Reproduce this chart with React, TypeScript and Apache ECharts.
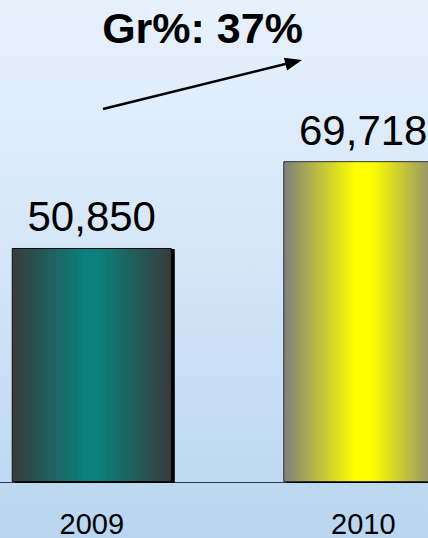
import React, { useEffect, useRef } from "react";
import * as echarts from "echarts";

const categories = ["2009", "2010"];
const values = [50850, 69718];
const growthLabel = "Gr%: 37%";

export default function App() {
  const ref = useRef<HTMLDivElement>(null);
  useEffect(() => {
    if (!ref.current) return;
    const chart = echarts.init(ref.current, null, { renderer: "svg" });
    const grad = (edge: string, mid: string) =>
      new echarts.graphic.LinearGradient(0, 0, 1, 0, [
        { offset: 0, color: edge },
        { offset: 0.45, color: mid },
        { offset: 0.55, color: mid },
        { offset: 1, color: edge },
      ]);
    const barStyles = [
      { color: grad("#383b3b", "#0b7f7b"), borderColor: "#111", borderWidth: 1, shadowColor: "#000", shadowOffsetX: 3, shadowOffsetY: 1, shadowBlur: 0 },
      { color: grad("#7f7f7f", "#ffff00"), borderColor: "#333", borderWidth: 1, shadowColor: "#000", shadowOffsetX: 3, shadowOffsetY: 1, shadowBlur: 0 },
    ];
    // arrow geometry
    const x1 = 103, y1 = 109, tx = 302, ty = 60;
    const dx = tx - x1, dy = ty - y1;
    const len = Math.hypot(dx, dy);
    const ux = dx / len, uy = dy / len;
    const hl = 17, hw = 6.5;
    const bx = tx - hl * ux, by = ty - hl * uy;
    const nx = -uy, ny = ux;
    chart.setOption({
      animation: false,
      grid: { left: -44, right: -71, top: 21.8, bottom: 56, outerBoundsMode: "none" },
      xAxis: {
        type: "category",
        data: categories,
        axisTick: { show: false },
        axisLine: { lineStyle: { color: "#2a3a50", width: 1 } },
        axisLabel: { fontSize: 29, color: "#000", margin: 27, fontFamily: "Liberation Sans, Arial, sans-serif" },
      },
      yAxis: { type: "value", min: 0, max: 100000, show: false, splitLine: { show: false } },
      series: [
        {
          type: "bar",
          barWidth: 160,
          data: values.map((v, i) => ({ value: v, itemStyle: barStyles[i] })),
          label: {
            show: true,
            position: "top",
            distance: 10,
            fontSize: 42,
            color: "#000",
            fontFamily: "Liberation Sans, Arial, sans-serif",
            formatter: (p: any) => Number(p.value).toLocaleString("en-US"),
          },
        },
      ],
      graphic: [
        {
          type: "text",
          x: 202.5,
          y: 28,
          style: {
            text: growthLabel,
            fontSize: 43,
            fontWeight: "bold",
            fontFamily: "Liberation Sans, Arial, sans-serif",
            fill: "#000",
            textAlign: "center",
            textVerticalAlign: "middle",
          },
        },
        {
          type: "line",
          shape: { x1, y1, x2: bx + 2 * ux, y2: by + 2 * uy },
          style: { stroke: "#000", lineWidth: 2.5 },
        },
        {
          type: "polygon",
          shape: { points: [[tx, ty], [bx + hw * nx, by + hw * ny], [bx - hw * nx, by - hw * ny]] },
          style: { fill: "#000" },
        },
      ],
    });
    return () => chart.dispose();
  }, []);
  return (
    <div
      ref={ref}
      style={{
        position: "fixed",
        left: 0,
        top: 0,
        width: 428,
        height: 538,
        background: "linear-gradient(to bottom, #e7f1fc 0%, #d6e7f8 45%, #b9d5f0 100%)",
      }}
    />
  );
}
